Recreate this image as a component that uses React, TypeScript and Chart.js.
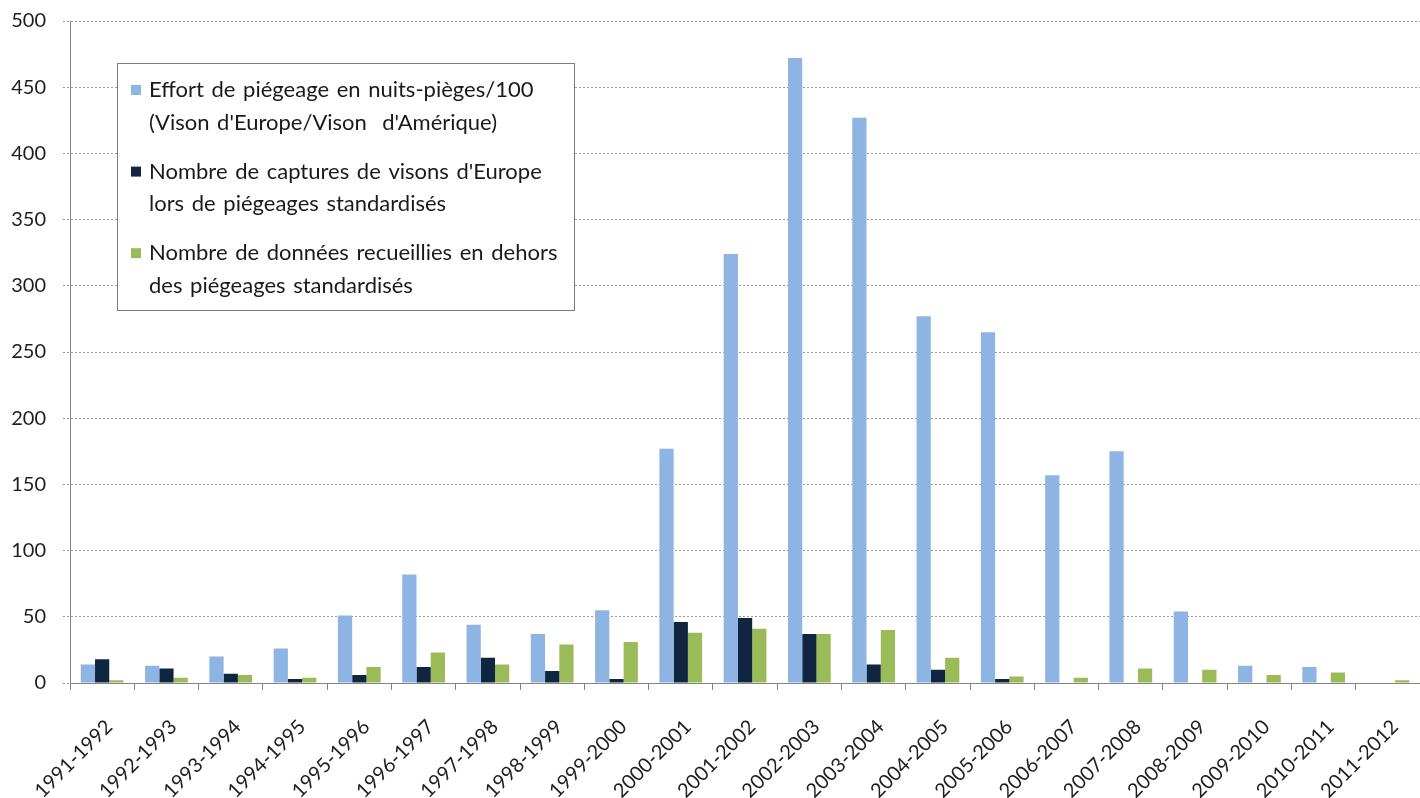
import React, { useEffect, useRef } from "react";
import { Chart, registerables } from "chart.js";

Chart.register(...registerables);

// Trapping seasons
const seasons = [
  "1991-1992", "1992-1993", "1993-1994", "1994-1995", "1995-1996", "1996-1997",
  "1997-1998", "1998-1999", "1999-2000", "2000-2001", "2001-2002", "2002-2003",
  "2003-2004", "2004-2005", "2005-2006", "2006-2007", "2007-2008", "2008-2009",
  "2009-2010", "2010-2011", "2011-2012",
];

// Trapping effort, trap-nights / 100
const effortValues = [
  14, 13, 20, 26, 51, 82, 44, 37, 55, 177, 324, 472, 427, 277, 265, 157, 175, 54, 13, 12, null,
];

// European mink captured during standardised trapping
const captureValues = [
  18, 11, 7, 3, 6, 12, 19, 9, 3, 46, 49, 37, 14, 10, 3, null, null, null, null, null, null,
];

// Records collected outside standardised trapping
const otherRecordValues = [
  2, 4, 6, 4, 12, 23, 14, 29, 31, 38, 41, 37, 40, 19, 5, 4, 11, 10, 6, 8, 2,
];

const yMax = 500;
const yStep = 50;

const seriesColors = ["#8DB4E2", "#10253F", "#9BBB59"];

const legendEntries = [
  {
    color: seriesColors[0],
    lines: ["Effort de piégeage en nuits-pièges/100", "(Vison d'Europe/Vison  d'Amérique)"],
  },
  {
    color: seriesColors[1],
    lines: ["Nombre de captures de visons d'Europe", "lors de piégeages standardisés"],
  },
  {
    color: seriesColors[2],
    lines: ["Nombre de données recueillies en dehors", "des piégeages standardisés"],
  },
];

const FONT = "Lato, 'Open Sans', sans-serif";

// Boxed legend drawn inside the plot area, top-left
const boxLegend = {
  id: "boxLegend",
  afterDraw(chart: any) {
    const { ctx, chartArea } = chart;
    const left = chartArea.left + 47;
    const top = chartArea.top + 42;
    const width = 457;
    const height = 247;
    ctx.save();
    ctx.fillStyle = "#ffffff";
    ctx.fillRect(left, top, width, height);
    ctx.strokeStyle = "#7f7f7f";
    ctx.lineWidth = 1;
    ctx.strokeRect(left + 0.5, top + 0.5, width, height);
    ctx.font = `22px ${FONT}`;
    try {
      (ctx as any).wordSpacing = "2px";
    } catch (e) {
      /* older canvas implementations */
    }
    ctx.textBaseline = "alphabetic";
    ctx.textAlign = "left";
    let baseline = top + 34;
    legendEntries.forEach((entry) => {
      ctx.fillStyle = entry.color;
      ctx.fillRect(left + 14, baseline - 12, 10, 10);
      ctx.fillStyle = "#1a1a1a";
      entry.lines.forEach((line, i) => {
        ctx.fillText(line, left + 32, baseline + i * 32.5);
      });
      baseline += 81.6;
    });
    ctx.restore();
  },
};

export default function App() {
  const canvasRef = useRef<HTMLCanvasElement | null>(null);

  useEffect(() => {
    if (!canvasRef.current) return;
    Chart.defaults.font.family = FONT;

    const barOpts = { barPercentage: 1, categoryPercentage: 0.665, borderWidth: 0 };

    const chart = new Chart(canvasRef.current, {
      type: "bar",
      data: {
        labels: seasons,
        datasets: [
          { label: legendEntries[0].lines.join(" "), data: effortValues, backgroundColor: seriesColors[0], ...barOpts },
          { label: legendEntries[1].lines.join(" "), data: captureValues, backgroundColor: seriesColors[1], ...barOpts },
          { label: legendEntries[2].lines.join(" "), data: otherRecordValues, backgroundColor: seriesColors[2], ...barOpts },
        ],
      },
      options: {
        responsive: false,
        animation: false,
        layout: { padding: { top: 21, right: 2, left: 0, bottom: 0 } },
        plugins: {
          legend: { display: false },
          tooltip: { enabled: false },
        },
        scales: {
          x: {
            grid: {
              drawOnChartArea: false,
              drawTicks: true,
              tickLength: 7,
              color: "#868686",
              offset: true,
            },
            border: { color: "#868686", width: 1 },
            ticks: {
              autoSkip: false,
              minRotation: 45,
              maxRotation: 45,
              padding: 25,
              labelOffset: 7,
              color: "#1e1e1e",
              font: { size: 20 },
            },
            afterFit: (scale: any) => {
              scale.height = 115;
            },
          },
          y: {
            min: 0,
            max: yMax,
            ticks: {
              stepSize: yStep,
              padding: 17,
              color: "#1e1e1e",
              font: { size: 20 },
            },
            grid: {
              color: "#9a9a9a",
              tickLength: 7,
              tickColor: "#9a9a9a",
              tickBorderDash: [2, 2],
            },
            border: { color: "#868686", width: 1, dash: [2, 2] },
            afterFit: (scale: any) => {
              scale.width = 70;
              // the top label may overhang into the layout padding
              scale.paddingTop = 0;
              scale.paddingBottom = 0;
            },
          },
        },
      },
      plugins: [boxLegend],
    });

    return () => chart.destroy();
  }, []);

  return (
    <div
      style={{
        position: "fixed",
        left: 0,
        top: 0,
        width: 1420,
        height: 798,
        overflow: "hidden",
        background: "#ffffff",
      }}
    >
      <canvas ref={canvasRef} width={1430} height={798} style={{ display: "block" }} />
    </div>
  );
}
